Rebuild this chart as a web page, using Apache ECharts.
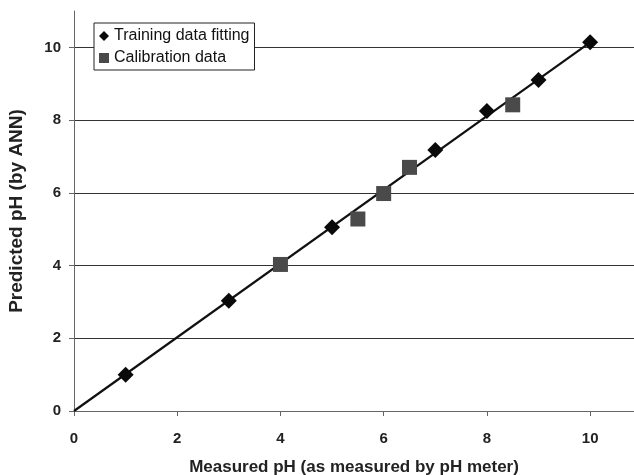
<!DOCTYPE html>
<html>
<head>
<meta charset="utf-8">
<script src="https://cdn.jsdelivr.net/npm/echarts@6/dist/echarts.min.js"></script>
<style>
  html, body { margin: 0; padding: 0; background: #fff; }
  #chart { width: 634px; height: 475px; }
</style>
</head>
<body>
<div id="chart"></div>
<script>
// Measured vs. ANN-predicted pH
const trainingX = [1, 3, 5, 7, 8, 9, 10];
const trainingY = [1.0, 3.03, 5.05, 7.18, 8.25, 9.1, 10.14];
const calibrationX = [4, 5.5, 6, 6.5, 8.5];
const calibrationY = [4.03, 5.28, 5.98, 6.7, 8.42];
const fitX = [0, 10];
const fitY = [0, 10.14];
const tickValues = [0, 2, 4, 6, 8, 10];

const pairs = (xs, ys) => xs.map((x, i) => [x, ys[i]]);
const FONT = "'Liberation Sans', Arial, sans-serif";

const chart = echarts.init(document.getElementById('chart'), null, { renderer: 'canvas' });

const evenOnly = v => (tickValues.indexOf(v) >= 0 ? String(v) : '');

chart.setOption({
  backgroundColor: '#ffffff',
  animation: false,
  grid: { left: 74, top: 11, right: 0, bottom: 64, outerBoundsMode: 'none' },
  legend: {
    data: [
      { name: 'Training data fitting', icon: 'diamond' },
      { name: 'Calibration data', icon: 'rect' }
    ],
    orient: 'vertical',
    left: 94,
    top: 23,
    itemWidth: 10,
    itemHeight: 10,
    itemGap: 4,
    padding: [4, 5, 3, 5],
    backgroundColor: '#ffffff',
    borderColor: '#222',
    borderWidth: 1,
    borderRadius: 0,
    textStyle: { fontFamily: FONT, fontSize: 16, color: '#111', lineHeight: 18 }
  },
  xAxis: {
    type: 'value',
    min: 0,
    max: 10.85,
    interval: 2,
    name: 'Measured pH (as measured by pH meter)',
    nameLocation: 'middle',
    nameGap: 48,
    nameTextStyle: { fontFamily: FONT, fontSize: 17, fontWeight: 'bold', color: '#222' },
    axisLine: { show: true, lineStyle: { color: '#666', width: 1 } },
    axisTick: { show: true, inside: false, length: 5, lineStyle: { color: '#666' } },
    axisLabel: {
      margin: 20,
      fontFamily: FONT, fontSize: 15, fontWeight: 'bold', color: '#222',
      formatter: evenOnly
    },
    splitLine: { show: false }
  },
  yAxis: {
    type: 'value',
    min: 0,
    max: 11,
    interval: 2,
    name: 'Predicted pH (by ANN)',
    nameLocation: 'middle',
    nameGap: 48,
    nameTextStyle: { fontFamily: FONT, fontSize: 19, fontWeight: 'bold', color: '#222' },
    axisLine: { show: true, lineStyle: { color: '#666', width: 1 } },
    axisTick: { show: true, length: 5, lineStyle: { color: '#666' }, customValues: tickValues },
    axisLabel: {
      margin: 13,
      fontFamily: FONT, fontSize: 15, fontWeight: 'bold', color: '#222',
      customValues: tickValues,
      formatter: evenOnly
    },
    splitLine: {
      show: true,
      showMinLine: false,
      lineStyle: { color: '#333', width: 1 }
    }
  },
  series: [
    {
      name: 'Fit',
      type: 'line',
      data: pairs(fitX, fitY),
      showSymbol: false,
      symbol: 'none',
      lineStyle: { color: '#111', width: 2.2 },
      silent: true,
      z: 2
    },
    {
      name: 'Training data fitting',
      type: 'scatter',
      data: pairs(trainingX, trainingY),
      symbol: 'diamond',
      symbolSize: 16,
      itemStyle: { color: '#0a0a0a', opacity: 1 },
      z: 3
    },
    {
      name: 'Calibration data',
      type: 'scatter',
      data: pairs(calibrationX, calibrationY),
      symbol: 'rect',
      symbolSize: 15,
      itemStyle: { color: '#4a4a4a', opacity: 1 },
      z: 4
    }
  ]
});
</script>
</body>
</html>
